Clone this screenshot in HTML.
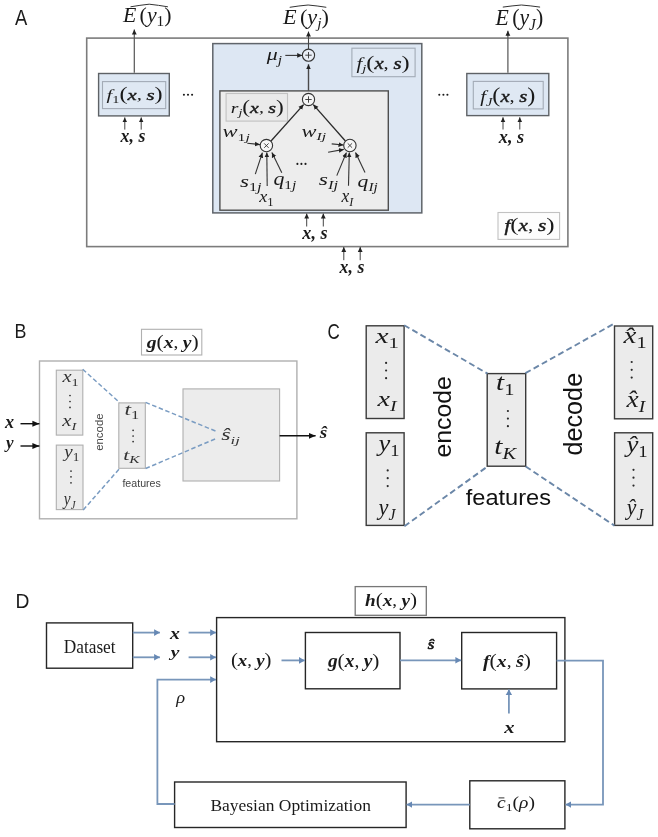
<!DOCTYPE html>
<html><head><meta charset="utf-8">
<style>
html,body{margin:0;padding:0;background:#fff;width:658px;height:837px;overflow:hidden}
svg{display:block;will-change:transform}

</style></head><body>
<svg width="658" height="837" viewBox="0 0 658 837">
<defs>
<marker id="ak" markerWidth="6" markerHeight="6" refX="5" refY="3" orient="auto" markerUnits="userSpaceOnUse"><path d="M0,0.6 L5,3 L0,5.4 z" fill="#222"/></marker>
<marker id="ab" markerWidth="8" markerHeight="8" refX="5.8" refY="4" orient="auto" markerUnits="userSpaceOnUse"><path d="M0,0.7 L5.8,4 L0,7.3 z" fill="#6688b4"/></marker>
<marker id="abk" markerWidth="8" markerHeight="8" refX="7" refY="4" orient="auto" markerUnits="userSpaceOnUse"><path d="M0,1 L7,4 L0,7 z" fill="#111"/></marker>
</defs>
<!-- ================= PANEL A ================= -->
<rect x="86.7" y="38.1" width="481.2" height="208.5" fill="none" stroke="#7c7c7c" stroke-width="1.6"/>

<!-- f1 -->
<rect x="98.6" y="73.5" width="70.7" height="42.4" fill="#dde7f3" stroke="#5e6266" stroke-width="1.4"/>
<rect x="102.5" y="81.6" width="63.2" height="27" fill="#dfe8f3" stroke="#a3abb6" stroke-width="1.1"/>
<line x1="134.3" y1="72.8" x2="134.3" y2="29.5" stroke="#555" stroke-width="1.2" marker-end="url(#ak)"/>
<path d="M130.5,6.8 Q140,5.2 149.2,4.2 Q158.5,5.2 167.9,6.8" fill="none" stroke="#333" stroke-width="1"/>
<line x1="124.8" y1="129.6" x2="124.8" y2="117.4" stroke="#444" stroke-width="1" marker-end="url(#ak)"/>
<line x1="141.2" y1="129.6" x2="141.2" y2="117.4" stroke="#444" stroke-width="1" marker-end="url(#ak)"/>

<!-- fj -->
<rect x="212.8" y="43.6" width="209" height="169.3" fill="#dde7f3" stroke="#60656b" stroke-width="1.5"/>
<rect x="351.9" y="48.2" width="63.2" height="28.5" fill="#dfe8f3" stroke="#a3abb6" stroke-width="1.1"/>
<path d="M289.7,7.3 Q299,5.8 308.1,5 Q317,5.8 326.3,7.3" fill="none" stroke="#333" stroke-width="1"/>
<line x1="308.5" y1="49.1" x2="308.5" y2="31.6" stroke="#444" stroke-width="1.1" marker-end="url(#ak)"/>
<circle cx="308.5" cy="55.2" r="6.1" fill="#e9eef6" stroke="#333" stroke-width="1.1"/>
<path d="M305.3,55.2 H311.7 M308.5,52 V58.4" stroke="#333" stroke-width="0.9"/>
<line x1="285.3" y1="55.4" x2="302.2" y2="55.4" stroke="#333" stroke-width="1.1" marker-end="url(#ak)"/>
<line x1="308.5" y1="93.4" x2="308.5" y2="64.3" stroke="#4a4a4a" stroke-width="1.4" marker-end="url(#ak)"/>

<!-- rj -->
<rect x="219.9" y="90.9" width="168.4" height="119.3" fill="#ededed" stroke="#4f4f4f" stroke-width="1.4"/>
<rect x="226.1" y="93.5" width="61.4" height="27.6" fill="#eaeaea" stroke="#c2c2c2" stroke-width="1.1"/>
<circle cx="308.5" cy="99.5" r="6.1" fill="#f6f6f6" stroke="#333" stroke-width="1.1"/>
<path d="M305.3,99.5 H311.7 M308.5,96.3 V102.7" stroke="#333" stroke-width="0.9"/>
<!-- left x node -->
<circle cx="266.4" cy="145.6" r="6.2" fill="#f6f6f6" stroke="#333" stroke-width="1.1"/>
<path d="M264.2,143.4 L268.6,147.8 M268.6,143.4 L264.2,147.8" stroke="#333" stroke-width="0.9"/>
<line x1="270.8" y1="141.2" x2="303.6" y2="104.6" stroke="#2a2a2a" stroke-width="1.3" marker-end="url(#ak)"/>
<line x1="345.4" y1="141" x2="313.3" y2="104.6" stroke="#2a2a2a" stroke-width="1.3" marker-end="url(#ak)"/>
<line x1="247.3" y1="143.2" x2="259.9" y2="144.6" stroke="#333" stroke-width="1.1" marker-end="url(#ak)"/>
<line x1="255.3" y1="174.2" x2="262.4" y2="152.7" stroke="#333" stroke-width="1.1" marker-end="url(#ak)"/>
<line x1="267.2" y1="186" x2="266.8" y2="152.4" stroke="#333" stroke-width="1.1" marker-end="url(#ak)"/>
<line x1="281.8" y1="172.8" x2="271.9" y2="152.6" stroke="#333" stroke-width="1.1" marker-end="url(#ak)"/>
<!-- right x node -->
<circle cx="349.9" cy="145.5" r="6.2" fill="#f6f6f6" stroke="#333" stroke-width="1.1"/>
<path d="M347.7,143.3 L352.1,147.7 M352.1,143.3 L347.7,147.7" stroke="#333" stroke-width="0.9"/>
<line x1="331.7" y1="143.9" x2="343.5" y2="145" stroke="#333" stroke-width="1.1" marker-end="url(#ak)"/>
<line x1="328.1" y1="152.2" x2="343.8" y2="149.4" stroke="#333" stroke-width="1.1" marker-end="url(#ak)"/>
<line x1="336.8" y1="175.6" x2="346.4" y2="152.6" stroke="#333" stroke-width="1.1" marker-end="url(#ak)"/>
<line x1="348.5" y1="185.7" x2="349.3" y2="152.4" stroke="#333" stroke-width="1.1" marker-end="url(#ak)"/>
<line x1="365" y1="172.4" x2="355.5" y2="152.6" stroke="#333" stroke-width="1.1" marker-end="url(#ak)"/>

<line x1="306.7" y1="226.5" x2="306.7" y2="213.6" stroke="#444" stroke-width="1" marker-end="url(#ak)"/>
<line x1="323.3" y1="226.5" x2="323.3" y2="213.6" stroke="#444" stroke-width="1" marker-end="url(#ak)"/>

<!-- fJ -->
<rect x="466.8" y="73.5" width="82" height="42.1" fill="#dde7f3" stroke="#5e6266" stroke-width="1.4"/>
<rect x="473.3" y="81.4" width="69.9" height="27.5" fill="#dfe8f3" stroke="#a3abb6" stroke-width="1.1"/>
<line x1="507.9" y1="72.8" x2="507.9" y2="30.8" stroke="#555" stroke-width="1.2" marker-end="url(#ak)"/>
<path d="M502.8,7.1 Q512,5.8 521.4,5 Q531,5.8 540.1,7.1" fill="none" stroke="#333" stroke-width="1"/>
<line x1="503" y1="129.5" x2="503" y2="117.3" stroke="#444" stroke-width="1" marker-end="url(#ak)"/>
<line x1="519.8" y1="129.5" x2="519.8" y2="117.3" stroke="#444" stroke-width="1" marker-end="url(#ak)"/>

<rect x="498" y="212.5" width="61.6" height="26.9" fill="#fdfdfd" stroke="#c2c2c2" stroke-width="1.1"/>

<line x1="343.8" y1="260.2" x2="343.8" y2="247" stroke="#444" stroke-width="1" marker-end="url(#ak)"/>
<line x1="360.2" y1="260.2" x2="360.2" y2="247" stroke="#444" stroke-width="1" marker-end="url(#ak)"/>

<!-- ================= PANEL B ================= -->
<rect x="39.5" y="361" width="257.4" height="157.8" fill="none" stroke="#b0b0b0" stroke-width="1.4"/>
<rect x="141.5" y="329.3" width="60.3" height="25.7" fill="#fff" stroke="#b0b0b0" stroke-width="1.1"/>
<rect x="56.3" y="370.2" width="26.5" height="64.9" fill="#ececec" stroke="#b0b0b0" stroke-width="1.1"/>
<rect x="56.3" y="445.1" width="26.7" height="64.5" fill="#ececec" stroke="#b0b0b0" stroke-width="1.1"/>
<rect x="118.8" y="402.9" width="26.5" height="65.4" fill="#ececec" stroke="#b0b0b0" stroke-width="1.1"/>
<rect x="183" y="388.9" width="96.6" height="92.1" fill="#ececec" stroke="#b0b0b0" stroke-width="1.1"/>
<g stroke="#7a9cc2" stroke-width="1.5" stroke-dasharray="4.5 2.6" fill="none">
<line x1="82.7" y1="369.2" x2="119.6" y2="402.6"/>
<line x1="83.2" y1="510" x2="119.6" y2="468.5"/>
<line x1="145.6" y1="402.4" x2="216.4" y2="431.4"/>
<line x1="145.6" y1="468.5" x2="216.4" y2="438.4"/>
</g>
<line x1="279.6" y1="435.8" x2="315.6" y2="435.8" stroke="#111" stroke-width="1.4" marker-end="url(#abk)"/>
<line x1="20.5" y1="423.7" x2="39.4" y2="423.7" stroke="#111" stroke-width="1.4" marker-end="url(#abk)"/>
<line x1="20.5" y1="446" x2="39.4" y2="446" stroke="#111" stroke-width="1.4" marker-end="url(#abk)"/>

<!-- ================= PANEL C ================= -->
<g fill="#ebebeb" stroke="#3a3a3a" stroke-width="1.4">
<rect x="366.2" y="325.8" width="37.9" height="92.7"/>
<rect x="366.2" y="432.8" width="37.9" height="92.6"/>
<rect x="487.2" y="373.6" width="38.5" height="92.6"/>
<rect x="614.5" y="326" width="38.2" height="92.8"/>
<rect x="614.6" y="432.8" width="38.1" height="92.6"/>
</g>
<g stroke="#6b87a8" stroke-width="1.9" stroke-dasharray="6 3.4" fill="none">
<line x1="404.2" y1="325.2" x2="487.5" y2="373.6"/>
<line x1="404.4" y1="526.3" x2="487.5" y2="466.5"/>
<line x1="525.4" y1="373.2" x2="612.8" y2="324.4"/>
<line x1="525.7" y1="466.5" x2="614.4" y2="525.6"/>
</g>

<!-- ================= PANEL D ================= -->
<g fill="none" stroke="#262626" stroke-width="1.4">
<rect x="46.5" y="622.9" width="86.2" height="45.3"/>
<rect x="216.6" y="617.6" width="348.3" height="124.1"/>
<rect x="305.4" y="632.5" width="94.6" height="56.3"/>
<rect x="461.7" y="632.5" width="94.9" height="56.4"/>
<rect x="469.8" y="780.8" width="95.1" height="48"/>
<rect x="174.6" y="782" width="231.5" height="45.5"/>
</g>
<rect x="355.2" y="586.6" width="71.1" height="28.7" fill="#fff" stroke="#777" stroke-width="1.3"/>
<g stroke="#7896ba" stroke-width="1.8" fill="none">
<line x1="132.8" y1="632.6" x2="159.9" y2="632.6" marker-end="url(#ab)"/>
<line x1="132.8" y1="657.3" x2="159.9" y2="657.3" marker-end="url(#ab)"/>
<line x1="188.6" y1="632.6" x2="216" y2="632.6" marker-end="url(#ab)"/>
<line x1="188.6" y1="657.3" x2="216" y2="657.3" marker-end="url(#ab)"/>
<polyline points="174.6,804 157.4,804 157.4,679.6 216,679.6" marker-end="url(#ab)"/>
<line x1="281.5" y1="660.4" x2="304.8" y2="660.4" marker-end="url(#ab)"/>
<line x1="400" y1="660.3" x2="461.2" y2="660.3" marker-end="url(#ab)"/>
<line x1="508.9" y1="713.6" x2="508.9" y2="689.4" marker-end="url(#ab)"/>
<polyline points="556.6,660.6 603,660.6 603,804.6 565.5,804.6" marker-end="url(#ab)"/>
<line x1="469.8" y1="804.6" x2="406.6" y2="804.6" marker-end="url(#ab)"/>
</g>

<text id="lA" x="14.90" y="24.70" font-size="22.65" fill="#1a1a1a" textLength="12.28" lengthAdjust="spacingAndGlyphs" xml:space="preserve"><tspan font-family="Liberation Sans" font-style="normal" font-weight="normal">A</tspan></text>
<text id="E1" x="123.00" y="21.80" font-size="20.21" fill="#1a1a1a" textLength="48.57" lengthAdjust="spacingAndGlyphs" xml:space="preserve"><tspan font-family="Liberation Serif" font-style="italic" font-weight="normal">E</tspan><tspan font-family="Liberation Serif" font-style="normal" font-weight="normal" font-size="12.13"> </tspan><tspan font-family="Liberation Serif" font-style="normal" font-weight="normal">(</tspan><tspan font-family="Liberation Serif" font-style="italic" font-weight="normal">y</tspan><tspan font-family="Liberation Serif" font-style="normal" font-weight="normal" font-size="14.15" baseline-shift="-4.45">1</tspan><tspan font-family="Liberation Serif" font-style="normal" font-weight="normal">)</tspan></text>
<text id="Ej" x="283.00" y="23.90" font-size="19.90" fill="#1a1a1a" textLength="46.05" lengthAdjust="spacingAndGlyphs" xml:space="preserve"><tspan font-family="Liberation Serif" font-style="italic" font-weight="normal">E</tspan><tspan font-family="Liberation Serif" font-style="normal" font-weight="normal" font-size="11.94"> </tspan><tspan font-family="Liberation Serif" font-style="normal" font-weight="normal">(</tspan><tspan font-family="Liberation Serif" font-style="italic" font-weight="normal">y</tspan><tspan font-family="Liberation Serif" font-style="italic" font-weight="normal" font-size="13.93" baseline-shift="-4.38">j</tspan><tspan font-family="Liberation Serif" font-style="normal" font-weight="normal">)</tspan></text>
<text id="EJ" x="495.60" y="24.90" font-size="22.53" fill="#1a1a1a" textLength="47.53" lengthAdjust="spacingAndGlyphs" xml:space="preserve"><tspan font-family="Liberation Serif" font-style="italic" font-weight="normal">E</tspan><tspan font-family="Liberation Serif" font-style="normal" font-weight="normal" font-size="13.52"> </tspan><tspan font-family="Liberation Serif" font-style="normal" font-weight="normal">(</tspan><tspan font-family="Liberation Serif" font-style="italic" font-weight="normal">y</tspan><tspan font-family="Liberation Serif" font-style="italic" font-weight="normal" font-size="15.77" baseline-shift="-4.96">J</tspan><tspan font-family="Liberation Serif" font-style="normal" font-weight="normal">)</tspan></text>
<text id="F1" x="106.60" y="99.90" font-size="15.29" fill="#1a1a1a" textLength="56.12" lengthAdjust="spacingAndGlyphs" xml:space="preserve"><tspan font-family="Liberation Serif" font-style="italic" font-weight="normal">f</tspan><tspan font-family="Liberation Serif" font-style="normal" font-weight="normal" font-size="10.70" baseline-shift="-3.36">1</tspan><tspan font-family="Liberation Serif" font-style="normal" font-weight="normal" font-size="18.04">(</tspan><tspan font-family="Liberation Serif" font-style="italic" font-weight="normal" stroke="#1a1a1a" stroke-width="0.4">x</tspan><tspan font-family="Liberation Serif" font-style="normal" font-weight="normal">,</tspan><tspan font-family="Liberation Serif" font-style="normal" font-weight="normal" font-size="13.76"> </tspan><tspan font-family="Liberation Serif" font-style="italic" font-weight="normal" stroke="#1a1a1a" stroke-width="0.4">s</tspan><tspan font-family="Liberation Serif" font-style="normal" font-weight="normal" font-size="18.04">)</tspan></text>
<text id="Fj" x="356.50" y="68.60" font-size="15.78" fill="#1a1a1a" textLength="53.07" lengthAdjust="spacingAndGlyphs" xml:space="preserve"><tspan font-family="Liberation Serif" font-style="italic" font-weight="normal">f</tspan><tspan font-family="Liberation Serif" font-style="italic" font-weight="normal" font-size="11.04" baseline-shift="-3.47">j</tspan><tspan font-family="Liberation Serif" font-style="normal" font-weight="normal" font-size="18.62">(</tspan><tspan font-family="Liberation Serif" font-style="italic" font-weight="normal" stroke="#1a1a1a" stroke-width="0.4">x</tspan><tspan font-family="Liberation Serif" font-style="normal" font-weight="normal">,</tspan><tspan font-family="Liberation Serif" font-style="normal" font-weight="normal" font-size="14.20"> </tspan><tspan font-family="Liberation Serif" font-style="italic" font-weight="normal" stroke="#1a1a1a" stroke-width="0.4">s</tspan><tspan font-family="Liberation Serif" font-style="normal" font-weight="normal" font-size="18.62">)</tspan></text>
<text id="FJ" x="480.20" y="102.30" font-size="17.37" fill="#1a1a1a" textLength="55.21" lengthAdjust="spacingAndGlyphs" xml:space="preserve"><tspan font-family="Liberation Serif" font-style="italic" font-weight="normal">f</tspan><tspan font-family="Liberation Serif" font-style="italic" font-weight="normal" font-size="12.16" baseline-shift="-3.82">J</tspan><tspan font-family="Liberation Serif" font-style="normal" font-weight="normal" font-size="20.50">(</tspan><tspan font-family="Liberation Serif" font-style="italic" font-weight="normal" stroke="#1a1a1a" stroke-width="0.4">x</tspan><tspan font-family="Liberation Serif" font-style="normal" font-weight="normal">,</tspan><tspan font-family="Liberation Serif" font-style="normal" font-weight="normal" font-size="15.63"> </tspan><tspan font-family="Liberation Serif" font-style="italic" font-weight="normal" stroke="#1a1a1a" stroke-width="0.4">s</tspan><tspan font-family="Liberation Serif" font-style="normal" font-weight="normal" font-size="20.50">)</tspan></text>
<text id="Rj" x="230.80" y="113.10" font-size="15.12" fill="#1a1a1a" textLength="53.00" lengthAdjust="spacingAndGlyphs" xml:space="preserve"><tspan font-family="Liberation Serif" font-style="italic" font-weight="normal">r</tspan><tspan font-family="Liberation Serif" font-style="italic" font-weight="normal" font-size="10.58" baseline-shift="-3.33">j</tspan><tspan font-family="Liberation Serif" font-style="normal" font-weight="normal" font-size="17.84">(</tspan><tspan font-family="Liberation Serif" font-style="italic" font-weight="normal" stroke="#1a1a1a" stroke-width="0.4">x</tspan><tspan font-family="Liberation Serif" font-style="normal" font-weight="normal">,</tspan><tspan font-family="Liberation Serif" font-style="normal" font-weight="normal" font-size="13.61"> </tspan><tspan font-family="Liberation Serif" font-style="italic" font-weight="normal" stroke="#1a1a1a" stroke-width="0.4">s</tspan><tspan font-family="Liberation Serif" font-style="normal" font-weight="normal" font-size="17.84">)</tspan></text>
<text id="Fxs" x="504.40" y="231.40" font-size="16.15" fill="#1a1a1a" textLength="50.25" lengthAdjust="spacingAndGlyphs" xml:space="preserve"><tspan font-family="Liberation Serif" font-style="italic" font-weight="normal" stroke="#1a1a1a" stroke-width="0.4">f</tspan><tspan font-family="Liberation Serif" font-style="normal" font-weight="normal" font-size="19.06">(</tspan><tspan font-family="Liberation Serif" font-style="italic" font-weight="normal" stroke="#1a1a1a" stroke-width="0.4">x</tspan><tspan font-family="Liberation Serif" font-style="normal" font-weight="normal">,</tspan><tspan font-family="Liberation Serif" font-style="normal" font-weight="normal" font-size="14.53"> </tspan><tspan font-family="Liberation Serif" font-style="italic" font-weight="normal" stroke="#1a1a1a" stroke-width="0.4">s</tspan><tspan font-family="Liberation Serif" font-style="normal" font-weight="normal" font-size="19.06">)</tspan></text>
<text id="xs1" x="120.60" y="142.30" font-size="18.16" fill="#1a1a1a" textLength="24.75" lengthAdjust="spacingAndGlyphs" xml:space="preserve"><tspan font-family="Liberation Serif" font-style="italic" font-weight="bold">x</tspan><tspan font-family="Liberation Serif" font-style="italic" font-weight="bold">,</tspan><tspan font-family="Liberation Serif" font-style="italic" font-weight="bold"> </tspan><tspan font-family="Liberation Serif" font-style="italic" font-weight="bold">s</tspan></text>
<text id="xs2" x="302.30" y="239.10" font-size="18.33" fill="#1a1a1a" textLength="25.31" lengthAdjust="spacingAndGlyphs" xml:space="preserve"><tspan font-family="Liberation Serif" font-style="italic" font-weight="bold">x</tspan><tspan font-family="Liberation Serif" font-style="italic" font-weight="bold">,</tspan><tspan font-family="Liberation Serif" font-style="italic" font-weight="bold"> </tspan><tspan font-family="Liberation Serif" font-style="italic" font-weight="bold">s</tspan></text>
<text id="xs3" x="498.80" y="143.00" font-size="18.49" fill="#1a1a1a" textLength="25.44" lengthAdjust="spacingAndGlyphs" xml:space="preserve"><tspan font-family="Liberation Serif" font-style="italic" font-weight="bold">x</tspan><tspan font-family="Liberation Serif" font-style="italic" font-weight="bold">,</tspan><tspan font-family="Liberation Serif" font-style="italic" font-weight="bold"> </tspan><tspan font-family="Liberation Serif" font-style="italic" font-weight="bold">s</tspan></text>
<text id="xs4" x="339.60" y="273.20" font-size="17.84" fill="#1a1a1a" textLength="24.73" lengthAdjust="spacingAndGlyphs" xml:space="preserve"><tspan font-family="Liberation Serif" font-style="italic" font-weight="bold">x</tspan><tspan font-family="Liberation Serif" font-style="italic" font-weight="bold">,</tspan><tspan font-family="Liberation Serif" font-style="italic" font-weight="bold"> </tspan><tspan font-family="Liberation Serif" font-style="italic" font-weight="bold">s</tspan></text>
<text id="mu" x="266.80" y="59.90" font-size="16.43" fill="#1a1a1a" textLength="15.24" lengthAdjust="spacingAndGlyphs" xml:space="preserve"><tspan font-family="Liberation Serif" font-style="italic" font-weight="normal">μ</tspan><tspan font-family="Liberation Serif" font-style="italic" font-weight="normal" font-size="11.50" baseline-shift="-3.61">j</tspan></text>
<text id="w1j" x="222.50" y="136.70" font-size="16.15" fill="#1a1a1a" textLength="27.42" lengthAdjust="spacingAndGlyphs" xml:space="preserve"><tspan font-family="Liberation Serif" font-style="italic" font-weight="normal">w</tspan><tspan font-family="Liberation Serif" font-style="normal" font-weight="normal" font-size="11.31" baseline-shift="-3.55">1</tspan><tspan font-family="Liberation Serif" font-style="italic" font-weight="normal" font-size="11.31" baseline-shift="-3.55">j</tspan></text>
<text id="wIj" x="301.50" y="136.70" font-size="15.68" fill="#1a1a1a" textLength="24.59" lengthAdjust="spacingAndGlyphs" xml:space="preserve"><tspan font-family="Liberation Serif" font-style="italic" font-weight="normal">w</tspan><tspan font-family="Liberation Serif" font-style="italic" font-weight="normal" font-size="10.97" baseline-shift="-3.45">I</tspan><tspan font-family="Liberation Serif" font-style="italic" font-weight="normal" font-size="10.97" baseline-shift="-3.45">j</tspan></text>
<text id="s1j" x="239.90" y="186.70" font-size="16.39" fill="#1a1a1a" textLength="21.60" lengthAdjust="spacingAndGlyphs" xml:space="preserve"><tspan font-family="Liberation Serif" font-style="italic" font-weight="normal">s</tspan><tspan font-family="Liberation Serif" font-style="normal" font-weight="normal" font-size="11.47" baseline-shift="-3.61">1</tspan><tspan font-family="Liberation Serif" font-style="italic" font-weight="normal" font-size="11.47" baseline-shift="-3.61">j</tspan></text>
<text id="q1j" x="273.40" y="184.80" font-size="18.05" fill="#1a1a1a" textLength="22.84" lengthAdjust="spacingAndGlyphs" xml:space="preserve"><tspan font-family="Liberation Serif" font-style="italic" font-weight="normal">q</tspan><tspan font-family="Liberation Serif" font-style="normal" font-weight="normal" font-size="12.64" baseline-shift="-3.97">1</tspan><tspan font-family="Liberation Serif" font-style="italic" font-weight="normal" font-size="12.64" baseline-shift="-3.97">j</tspan></text>
<text id="x1a" x="259.30" y="202.10" font-size="16.37" fill="#1a1a1a" textLength="14.41" lengthAdjust="spacingAndGlyphs" xml:space="preserve"><tspan font-family="Liberation Serif" font-style="italic" font-weight="normal">x</tspan><tspan font-family="Liberation Serif" font-style="normal" font-weight="normal" font-size="11.46" baseline-shift="-3.60">1</tspan></text>
<text id="sIj" x="318.80" y="185.30" font-size="16.39" fill="#1a1a1a" textLength="19.31" lengthAdjust="spacingAndGlyphs" xml:space="preserve"><tspan font-family="Liberation Serif" font-style="italic" font-weight="normal">s</tspan><tspan font-family="Liberation Serif" font-style="italic" font-weight="normal" font-size="11.47" baseline-shift="-3.61">I</tspan><tspan font-family="Liberation Serif" font-style="italic" font-weight="normal" font-size="11.47" baseline-shift="-3.61">j</tspan></text>
<text id="qIj" x="357.60" y="186.90" font-size="17.69" fill="#1a1a1a" textLength="20.08" lengthAdjust="spacingAndGlyphs" xml:space="preserve"><tspan font-family="Liberation Serif" font-style="italic" font-weight="normal">q</tspan><tspan font-family="Liberation Serif" font-style="italic" font-weight="normal" font-size="12.39" baseline-shift="-3.89">I</tspan><tspan font-family="Liberation Serif" font-style="italic" font-weight="normal" font-size="12.39" baseline-shift="-3.89">j</tspan></text>
<text id="xIa" x="341.40" y="202.40" font-size="17.98" fill="#1a1a1a" textLength="11.81" lengthAdjust="spacingAndGlyphs" xml:space="preserve"><tspan font-family="Liberation Serif" font-style="italic" font-weight="normal">x</tspan><tspan font-family="Liberation Serif" font-style="italic" font-weight="normal" font-size="12.58" baseline-shift="-3.95">I</tspan></text>
<text id="lB" x="14.60" y="338.20" font-size="20.86" fill="#1a1a1a" textLength="11.91" lengthAdjust="spacingAndGlyphs" xml:space="preserve"><tspan font-family="Liberation Sans" font-style="normal" font-weight="normal">B</tspan></text>
<text id="gB" x="146.70" y="347.50" font-size="16.46" fill="#1a1a1a" textLength="51.98" lengthAdjust="spacingAndGlyphs" xml:space="preserve"><tspan font-family="Liberation Serif" font-style="italic" font-weight="bold">g</tspan><tspan font-family="Liberation Serif" font-style="normal" font-weight="normal" font-size="18.11">(</tspan><tspan font-family="Liberation Serif" font-style="italic" font-weight="bold">x</tspan><tspan font-family="Liberation Serif" font-style="normal" font-weight="normal">,</tspan><tspan font-family="Liberation Serif" font-style="normal" font-weight="normal" font-size="14.82"> </tspan><tspan font-family="Liberation Serif" font-style="italic" font-weight="bold">y</tspan><tspan font-family="Liberation Serif" font-style="normal" font-weight="normal" font-size="18.11">)</tspan></text>
<text id="x1B" x="62.40" y="381.90" font-size="15.92" fill="#333" textLength="16.34" lengthAdjust="spacingAndGlyphs" xml:space="preserve"><tspan font-family="Liberation Serif" font-style="italic" font-weight="normal">x</tspan><tspan font-family="Liberation Serif" font-style="normal" font-weight="normal" font-size="11.15" baseline-shift="-3.50">1</tspan></text>
<text id="xIB" x="62.30" y="425.70" font-size="15.92" fill="#333" textLength="14.08" lengthAdjust="spacingAndGlyphs" xml:space="preserve"><tspan font-family="Liberation Serif" font-style="italic" font-weight="normal">x</tspan><tspan font-family="Liberation Serif" font-style="italic" font-weight="normal" font-size="11.15" baseline-shift="-3.50">I</tspan></text>
<text id="y1B" x="64.20" y="457.30" font-size="16.62" fill="#333" textLength="15.14" lengthAdjust="spacingAndGlyphs" xml:space="preserve"><tspan font-family="Liberation Serif" font-style="italic" font-weight="normal">y</tspan><tspan font-family="Liberation Serif" font-style="normal" font-weight="normal" font-size="11.63" baseline-shift="-3.66">1</tspan></text>
<text id="yJB" x="63.80" y="504.60" font-size="18.28" fill="#333" textLength="11.63" lengthAdjust="spacingAndGlyphs" xml:space="preserve"><tspan font-family="Liberation Serif" font-style="italic" font-weight="normal">y</tspan><tspan font-family="Liberation Serif" font-style="italic" font-weight="normal" font-size="12.79" baseline-shift="-4.02">J</tspan></text>
<text id="t1B" x="124.40" y="415.40" font-size="17.04" fill="#333" textLength="14.78" lengthAdjust="spacingAndGlyphs" xml:space="preserve"><tspan font-family="Liberation Serif" font-style="italic" font-weight="normal">t</tspan><tspan font-family="Liberation Serif" font-style="normal" font-weight="normal" font-size="11.93" baseline-shift="-3.75">1</tspan></text>
<text id="tKB" x="123.20" y="459.80" font-size="14.88" fill="#333" textLength="16.42" lengthAdjust="spacingAndGlyphs" xml:space="preserve"><tspan font-family="Liberation Serif" font-style="italic" font-weight="normal">t</tspan><tspan font-family="Liberation Serif" font-style="italic" font-weight="normal" font-size="10.42" baseline-shift="-3.27">K</tspan></text>
<text id="featB" x="122.40" y="487.00" font-size="10.45" fill="#444" textLength="38.44" lengthAdjust="spacingAndGlyphs" xml:space="preserve"><tspan font-family="Liberation Sans" font-style="normal" font-weight="normal">features</tspan></text>
<text id="sijB" x="221.20" y="439.80" font-size="16.02" fill="#333" textLength="18.62" lengthAdjust="spacingAndGlyphs" xml:space="preserve"><tspan font-family="Liberation Serif" font-style="italic" font-weight="normal">ŝ</tspan><tspan font-family="Liberation Serif" font-style="italic" font-weight="normal" font-size="11.21" baseline-shift="-3.52">ij</tspan></text>
<text id="shatB" x="319.80" y="438.40" font-size="16.89" fill="#1a1a1a" textLength="7.46" lengthAdjust="spacingAndGlyphs" xml:space="preserve"><tspan font-family="Liberation Serif" font-style="italic" font-weight="bold">ŝ</tspan></text>
<text id="xB" x="5.00" y="427.60" font-size="18.37" fill="#1a1a1a" textLength="9.12" lengthAdjust="spacingAndGlyphs" xml:space="preserve"><tspan font-family="Liberation Serif" font-style="italic" font-weight="bold">x</tspan></text>
<text id="yB" x="6.00" y="448.20" font-size="17.39" fill="#1a1a1a" textLength="7.57" lengthAdjust="spacingAndGlyphs" xml:space="preserve"><tspan font-family="Liberation Serif" font-style="italic" font-weight="bold">y</tspan></text>
<text id="lC" x="327.50" y="338.60" font-size="22.01" fill="#1a1a1a" textLength="12.27" lengthAdjust="spacingAndGlyphs" xml:space="preserve"><tspan font-family="Liberation Sans" font-style="normal" font-weight="normal">C</tspan></text>
<text id="x1C" x="375.40" y="342.90" font-size="21.94" fill="#1a1a1a" textLength="23.42" lengthAdjust="spacingAndGlyphs" xml:space="preserve"><tspan font-family="Liberation Serif" font-style="italic" font-weight="normal">x</tspan><tspan font-family="Liberation Serif" font-style="normal" font-weight="normal" font-size="15.36" baseline-shift="-4.83">1</tspan></text>
<text id="xIC" x="377.40" y="406.20" font-size="21.53" fill="#1a1a1a" textLength="19.08" lengthAdjust="spacingAndGlyphs" xml:space="preserve"><tspan font-family="Liberation Serif" font-style="italic" font-weight="normal">x</tspan><tspan font-family="Liberation Serif" font-style="italic" font-weight="normal" font-size="15.07" baseline-shift="-4.74">I</tspan></text>
<text id="y1C" x="378.60" y="451.20" font-size="24.03" fill="#1a1a1a" textLength="21.01" lengthAdjust="spacingAndGlyphs" xml:space="preserve"><tspan font-family="Liberation Serif" font-style="italic" font-weight="normal">y</tspan><tspan font-family="Liberation Serif" font-style="normal" font-weight="normal" font-size="16.82" baseline-shift="-5.29">1</tspan></text>
<text id="yJC" x="378.60" y="515.40" font-size="23.19" fill="#1a1a1a" textLength="16.91" lengthAdjust="spacingAndGlyphs" xml:space="preserve"><tspan font-family="Liberation Serif" font-style="italic" font-weight="normal">y</tspan><tspan font-family="Liberation Serif" font-style="italic" font-weight="normal" font-size="16.24" baseline-shift="-5.10">J</tspan></text>
<text id="t1C" x="496.10" y="390.40" font-size="23.63" fill="#1a1a1a" textLength="18.33" lengthAdjust="spacingAndGlyphs" xml:space="preserve"><tspan font-family="Liberation Serif" font-style="italic" font-weight="normal">t</tspan><tspan font-family="Liberation Serif" font-style="normal" font-weight="normal" font-size="16.54" baseline-shift="-5.20">1</tspan></text>
<text id="tKC" x="494.30" y="454.20" font-size="23.88" fill="#1a1a1a" textLength="21.74" lengthAdjust="spacingAndGlyphs" xml:space="preserve"><tspan font-family="Liberation Serif" font-style="italic" font-weight="normal">t</tspan><tspan font-family="Liberation Serif" font-style="italic" font-weight="normal" font-size="16.71" baseline-shift="-5.25">K</tspan></text>
<text id="hx1C" x="623.60" y="343.40" font-size="22.72" fill="#1a1a1a" textLength="23.05" lengthAdjust="spacingAndGlyphs" xml:space="preserve"><tspan font-family="Liberation Serif" font-style="italic" font-weight="normal">x̂</tspan><tspan font-family="Liberation Serif" font-style="normal" font-weight="normal" font-size="15.90" baseline-shift="-5.00">1</tspan></text>
<text id="hxIC" x="626.60" y="406.50" font-size="22.72" fill="#1a1a1a" textLength="18.57" lengthAdjust="spacingAndGlyphs" xml:space="preserve"><tspan font-family="Liberation Serif" font-style="italic" font-weight="normal">x̂</tspan><tspan font-family="Liberation Serif" font-style="italic" font-weight="normal" font-size="15.90" baseline-shift="-5.00">I</tspan></text>
<text id="hy1C" x="626.40" y="451.80" font-size="23.37" fill="#1a1a1a" textLength="21.34" lengthAdjust="spacingAndGlyphs" xml:space="preserve"><tspan font-family="Liberation Serif" font-style="italic" font-weight="normal">ŷ</tspan><tspan font-family="Liberation Serif" font-style="normal" font-weight="normal" font-size="16.36" baseline-shift="-5.14">1</tspan></text>
<text id="hyJC" x="626.80" y="515.40" font-size="23.37" fill="#1a1a1a" textLength="16.33" lengthAdjust="spacingAndGlyphs" xml:space="preserve"><tspan font-family="Liberation Serif" font-style="italic" font-weight="normal">ŷ</tspan><tspan font-family="Liberation Serif" font-style="italic" font-weight="normal" font-size="16.36" baseline-shift="-5.14">J</tspan></text>
<text id="featC" x="465.70" y="505.10" font-size="22.11" fill="#111" textLength="85.36" lengthAdjust="spacingAndGlyphs" xml:space="preserve"><tspan font-family="Liberation Sans" font-style="normal" font-weight="normal">features</tspan></text>
<text id="lD" x="15.50" y="607.50" font-size="19.92" fill="#1a1a1a" textLength="13.92" lengthAdjust="spacingAndGlyphs" xml:space="preserve"><tspan font-family="Liberation Sans" font-style="normal" font-weight="normal">D</tspan></text>
<text id="dataset" x="63.80" y="653.00" font-size="19.01" fill="#1a1a1a" textLength="51.80" lengthAdjust="spacingAndGlyphs" xml:space="preserve"><tspan font-family="Liberation Serif" font-style="normal" font-weight="normal">Dataset</tspan></text>
<text id="bayes" x="210.40" y="811.20" font-size="17.68" fill="#1a1a1a" textLength="160.53" lengthAdjust="spacingAndGlyphs" xml:space="preserve"><tspan font-family="Liberation Serif" font-style="normal" font-weight="normal">Bayesian Optimization</tspan></text>
<text id="xD" x="170.00" y="638.80" font-size="16.40" fill="#1a1a1a" textLength="9.85" lengthAdjust="spacingAndGlyphs" xml:space="preserve"><tspan font-family="Liberation Serif" font-style="italic" font-weight="bold">x</tspan></text>
<text id="yD" x="170.70" y="657.30" font-size="14.68" fill="#1a1a1a" textLength="8.65" lengthAdjust="spacingAndGlyphs" xml:space="preserve"><tspan font-family="Liberation Serif" font-style="italic" font-weight="bold">y</tspan></text>
<text id="rho" x="176.20" y="703.30" font-size="16.48" fill="#1a1a1a" textLength="8.87" lengthAdjust="spacingAndGlyphs" xml:space="preserve"><tspan font-family="Liberation Serif" font-style="italic" font-weight="normal">ρ</tspan></text>
<text id="hD" x="365.00" y="606.10" font-size="16.63" fill="#1a1a1a" textLength="52.09" lengthAdjust="spacingAndGlyphs" xml:space="preserve"><tspan font-family="Liberation Serif" font-style="italic" font-weight="bold">h</tspan><tspan font-family="Liberation Serif" font-style="normal" font-weight="normal" font-size="18.29">(</tspan><tspan font-family="Liberation Serif" font-style="italic" font-weight="bold">x</tspan><tspan font-family="Liberation Serif" font-style="normal" font-weight="normal">,</tspan><tspan font-family="Liberation Serif" font-style="normal" font-weight="normal" font-size="14.97"> </tspan><tspan font-family="Liberation Serif" font-style="italic" font-weight="bold">y</tspan><tspan font-family="Liberation Serif" font-style="normal" font-weight="normal" font-size="18.29">)</tspan></text>
<text id="xyD" x="230.90" y="666.10" font-size="17.66" fill="#1a1a1a" textLength="40.50" lengthAdjust="spacingAndGlyphs" xml:space="preserve"><tspan font-family="Liberation Serif" font-style="normal" font-weight="normal" font-size="19.43">(</tspan><tspan font-family="Liberation Serif" font-style="italic" font-weight="bold">x</tspan><tspan font-family="Liberation Serif" font-style="normal" font-weight="normal">,</tspan><tspan font-family="Liberation Serif" font-style="normal" font-weight="normal" font-size="15.90"> </tspan><tspan font-family="Liberation Serif" font-style="italic" font-weight="bold">y</tspan><tspan font-family="Liberation Serif" font-style="normal" font-weight="normal" font-size="19.43">)</tspan></text>
<text id="gD" x="327.90" y="666.50" font-size="17.95" fill="#1a1a1a" textLength="51.55" lengthAdjust="spacingAndGlyphs" xml:space="preserve"><tspan font-family="Liberation Serif" font-style="italic" font-weight="bold">g</tspan><tspan font-family="Liberation Serif" font-style="normal" font-weight="normal" font-size="19.75">(</tspan><tspan font-family="Liberation Serif" font-style="italic" font-weight="bold">x</tspan><tspan font-family="Liberation Serif" font-style="normal" font-weight="normal">,</tspan><tspan font-family="Liberation Serif" font-style="normal" font-weight="normal" font-size="16.16"> </tspan><tspan font-family="Liberation Serif" font-style="italic" font-weight="bold">y</tspan><tspan font-family="Liberation Serif" font-style="normal" font-weight="normal" font-size="19.75">)</tspan></text>
<text id="fD" x="483.00" y="666.50" font-size="17.00" fill="#1a1a1a" textLength="47.96" lengthAdjust="spacingAndGlyphs" xml:space="preserve"><tspan font-family="Liberation Serif" font-style="italic" font-weight="bold">f</tspan><tspan font-family="Liberation Serif" font-style="normal" font-weight="normal" font-size="18.70">(</tspan><tspan font-family="Liberation Serif" font-style="italic" font-weight="bold">x</tspan><tspan font-family="Liberation Serif" font-style="normal" font-weight="normal">,</tspan><tspan font-family="Liberation Serif" font-style="normal" font-weight="normal" font-size="15.30"> </tspan><tspan font-family="Liberation Serif" font-style="italic" font-weight="bold">ŝ</tspan><tspan font-family="Liberation Serif" font-style="normal" font-weight="normal" font-size="18.70">)</tspan></text>
<text id="shD" x="427.80" y="649.40" font-size="15.27" fill="#1a1a1a" textLength="6.54" lengthAdjust="spacingAndGlyphs" xml:space="preserve"><tspan font-family="Liberation Serif" font-style="italic" font-weight="normal" stroke="#1a1a1a" stroke-width="0.7">ŝ</tspan></text>
<text id="xD2" x="504.20" y="733.00" font-size="16.40" fill="#1a1a1a" textLength="10.31" lengthAdjust="spacingAndGlyphs" xml:space="preserve"><tspan font-family="Liberation Serif" font-style="italic" font-weight="bold">x</tspan></text>
<text id="c1" x="497.00" y="808.30" font-size="15.87" fill="#1a1a1a" textLength="38.09" lengthAdjust="spacingAndGlyphs" xml:space="preserve"><tspan font-family="Liberation Serif" font-style="italic" font-weight="normal">c</tspan><tspan font-family="Liberation Serif" font-style="normal" font-weight="normal" font-size="11.11" baseline-shift="-3.49">1</tspan><tspan font-family="Liberation Serif" font-style="normal" font-weight="normal">(</tspan><tspan font-family="Liberation Serif" font-style="italic" font-weight="normal">ρ</tspan><tspan font-family="Liberation Serif" font-style="normal" font-weight="normal">)</tspan></text>
<g fill="#1a1a1a"><circle cx="183.9" cy="94.8" r="1.05"/><circle cx="188" cy="94.8" r="1.05"/><circle cx="192.1" cy="94.8" r="1.05"/></g>
<g fill="#1a1a1a"><circle cx="439.3" cy="94.7" r="1.05"/><circle cx="443.4" cy="94.7" r="1.05"/><circle cx="447.4" cy="94.7" r="1.05"/></g>
<g fill="#1a1a1a"><circle cx="297.4" cy="163.9" r="1.05"/><circle cx="301.4" cy="163.9" r="1.05"/><circle cx="305.5" cy="163.9" r="1.05"/></g>
<g fill="#2a2a2a"><circle cx="633.5" cy="469.8" r="1.1"/><circle cx="633.5" cy="477.7" r="1.1"/><circle cx="633.5" cy="485.6" r="1.1"/></g>
<g fill="#2a2a2a"><circle cx="631.7" cy="362" r="1.1"/><circle cx="631.7" cy="369.8" r="1.1"/><circle cx="631.7" cy="377.6" r="1.1"/></g>
<g fill="#2a2a2a"><circle cx="507.9" cy="411" r="1.1"/><circle cx="507.9" cy="418.6" r="1.1"/><circle cx="507.9" cy="426.2" r="1.1"/></g>
<g fill="#2a2a2a"><circle cx="387.7" cy="470.4" r="1.1"/><circle cx="387.7" cy="478.2" r="1.1"/><circle cx="387.7" cy="486.1" r="1.1"/></g>
<g fill="#2a2a2a"><circle cx="386.1" cy="362.9" r="1.1"/><circle cx="386.1" cy="370.5" r="1.1"/><circle cx="386.1" cy="378.2" r="1.1"/></g>
<g fill="#2a2a2a"><circle cx="133.1" cy="430.3" r="0.85"/><circle cx="133.1" cy="436" r="0.85"/><circle cx="133.1" cy="441.6" r="0.85"/></g>
<g fill="#2a2a2a"><circle cx="71" cy="471.1" r="0.85"/><circle cx="71" cy="476.8" r="0.85"/><circle cx="71" cy="482.8" r="0.85"/></g>
<g fill="#2a2a2a"><circle cx="70" cy="395.5" r="0.85"/><circle cx="70" cy="401.5" r="0.85"/><circle cx="70" cy="407.4" r="0.85"/></g>
<text font-family="Liberation Sans" font-size="11.4" transform="translate(102.9,450.8) rotate(-90)" x="0" y="0" fill="#444">encode</text>
<text font-family="Liberation Sans" font-size="24.8" transform="translate(450.6,457.6) rotate(-90)" x="0" y="0" fill="#111">encode</text>
<text font-family="Liberation Sans" font-size="25.2" transform="translate(582.2,455.5) rotate(-90)" x="0" y="0" fill="#111">decode</text>
<line x1="498.6" y1="797.9" x2="504.4" y2="797.9" stroke="#333" stroke-width="1"/>

</svg>
</body></html>
